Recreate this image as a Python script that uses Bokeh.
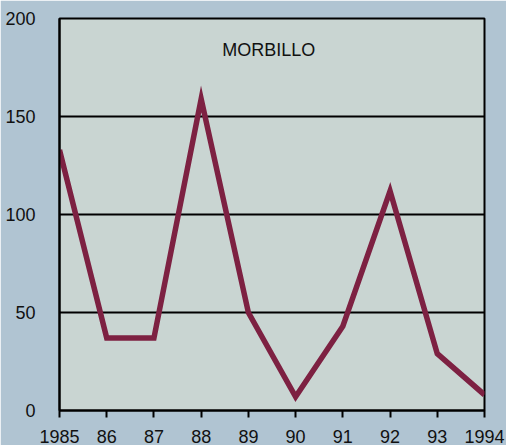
from bokeh.plotting import figure
from bokeh.models import Range1d, FixedTicker, Label
from bokeh.embed import file_html
from bokeh.resources import INLINE

years = [1985, 1986, 1987, 1988, 1989, 1990, 1991, 1992, 1993, 1994]
cases = [133, 37, 37, 159, 50, 7, 43, 112, 29, 8]
year_labels = {1985: "1985", 1986: "86", 1987: "87", 1988: "88", 1989: "89",
               1990: "90", 1991: "91", 1992: "92", 1993: "93", 1994: "1994"}
y_ticks = [0, 50, 100, 150, 200]
title_text = "MORBILLO"

p = figure(width=506, height=445, output_backend="svg", toolbar_location=None,
           x_range=Range1d(1985, 1994), y_range=Range1d(0, 200),
           min_border_left=59, min_border_top=18, min_border_right=22, min_border_bottom=35)

p.background_fill_color = "#c9d5d2"
p.border_fill_color = "#b0c4d2"
p.outline_line_color = "black"
p.outline_line_width = 2

p.xgrid.grid_line_color = None
p.ygrid.ticker = FixedTicker(ticks=y_ticks)
p.ygrid.grid_line_color = "black"
p.ygrid.grid_line_width = 2
p.ygrid.grid_line_alpha = 1

p.xaxis.ticker = FixedTicker(ticks=years)
p.xaxis.major_label_overrides = year_labels
p.xaxis.axis_line_width = 2
p.xaxis.major_tick_line_width = 2
p.xaxis.major_tick_out = 7
p.xaxis.major_tick_in = 0
p.xaxis.minor_tick_line_color = None
p.xaxis.major_label_text_font = "Liberation Sans"
p.xaxis.major_label_text_font_size = "18px"
p.xaxis.major_label_text_color = "#111111"
p.xaxis.major_label_standoff = 12

p.yaxis.ticker = FixedTicker(ticks=y_ticks)
p.yaxis.axis_line_width = 2
p.yaxis.major_tick_line_color = None
p.yaxis.minor_tick_line_color = None
p.yaxis.major_label_text_font = "Liberation Sans"
p.yaxis.major_label_text_font_size = "18px"
p.yaxis.major_label_text_color = "#111111"
p.yaxis.major_label_standoff = 18

p.line(years, cases, line_color="#7d2142", line_width=5.5, line_join="miter")

p.add_layout(Label(x=1989.43, y=184, text=title_text, text_font="Liberation Sans",
                   text_font_size="18px", text_color="#111111",
                   text_align="center", text_baseline="middle"))

open("out.html", "w").write(file_html(p, INLINE))
